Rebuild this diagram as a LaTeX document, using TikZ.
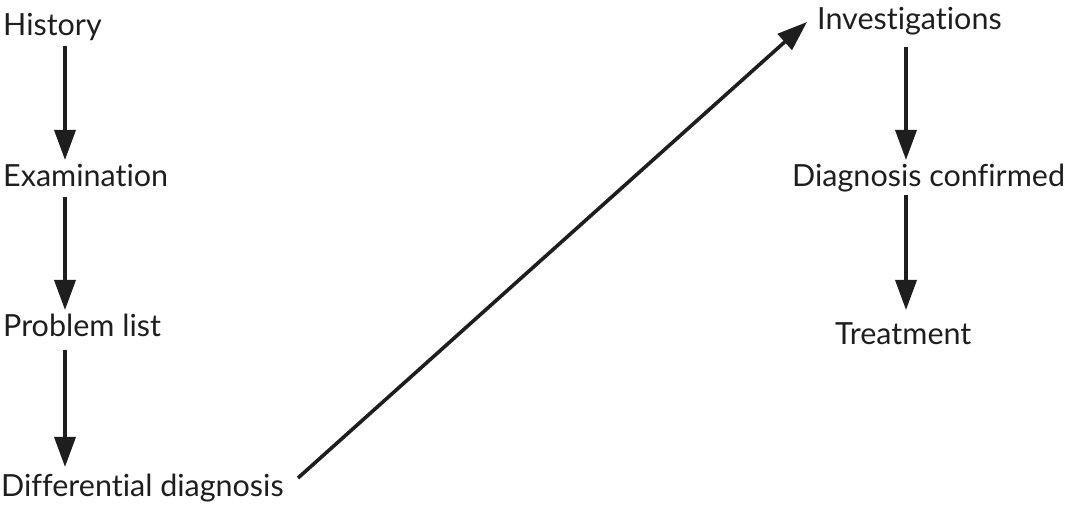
\documentclass[tikz,border=0pt]{standalone}
\usepackage{fontspec}
\setmainfont{Lato}[RawFeature={-liga;-dlig;-clig}]
\usetikzlibrary{arrows.meta,calc}
\definecolor{ink}{HTML}{1E1E1E}
\begin{document}
\begin{tikzpicture}[x=1pt,y=1pt,
  lbl/.style={anchor=base west,inner sep=0pt,text=ink,font=\fontsize{30.5}{36}\selectfont},
  arr/.style={draw=ink,line width=3.6pt,-{Triangle[length=30pt,width=21pt]}}]
\useasboundingbox (0,0) rectangle (1071,508);
\node[lbl] (h) at (3,472) {History};
\node[lbl] (e) at (3,321) {Examination};
\node[lbl] (p) at (3,171) {Problem list};
\node[lbl] (d) at (1,11) {Differential diagnosis};
\node[lbl] (i) at (817,478) {Investigations};
\node[lbl] (c) at (792,321) {Diagnosis confirmed};
\node[lbl] (t) at (835,163) {Treatment};
\draw[arr] ($(h.base west)+(62,-10)$) -- ($(e.base west)+(62,27)$);
\draw[arr] ($(e.base west)+(62,-10)$) -- ($(p.base west)+(62,27)$);
\draw[arr] ($(p.base west)+(62,-13)$) -- ($(d.base west)+(64,30)$);
\draw[arr] ($(d.base west)+(297,19)$) -- ($(i.base west)+(-10,8)$);
\draw[arr] ($(i.base west)+(89,-17)$) -- ($(c.base west)+(114,27)$);
\draw[arr] ($(c.base west)+(114,-8)$) -- ($(t.base west)+(71,35)$);
\end{tikzpicture}
\end{document}
